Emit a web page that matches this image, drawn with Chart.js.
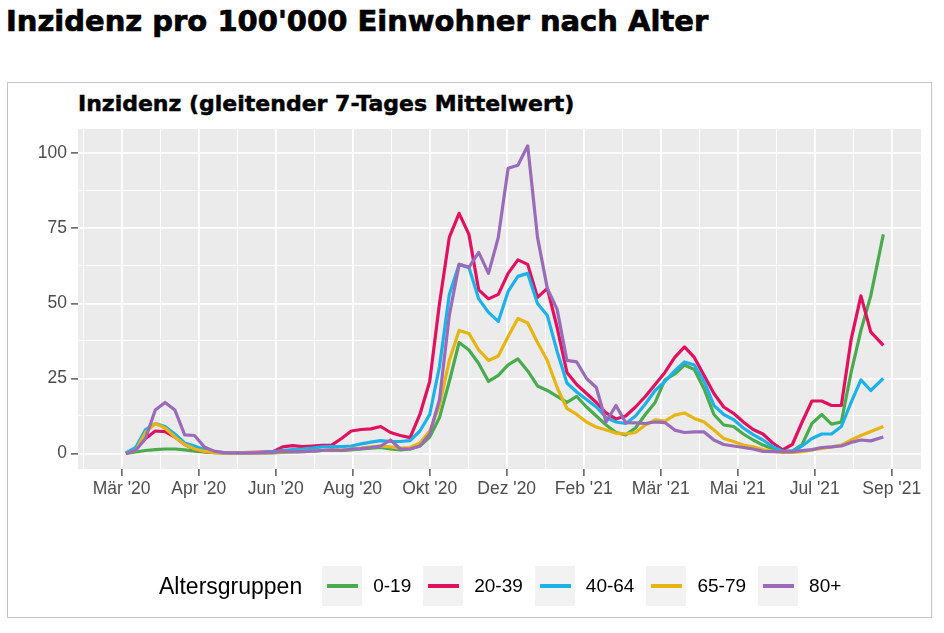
<!DOCTYPE html>
<html>
<head>
<meta charset="utf-8">
<script src="https://cdn.jsdelivr.net/npm/chart.js@4.4.1/dist/chart.umd.min.js"></script>
<style>
  html, body { margin:0; padding:0; background:#fff; }
  body { width:944px; height:633px; position:relative; overflow:hidden; font-family:"Liberation Sans", Arial, sans-serif; }
  #title { position:absolute; left:6px; top:7px; font-family:"DejaVu Sans", sans-serif; font-size:29px; line-height:29px; font-weight:bold; color:#000; white-space:nowrap; -webkit-text-stroke:0.7px #000; }
  #frame { position:absolute; left:7px; top:82px; width:923px; height:534px; border:1.5px solid #c4c4c4; }
  #subtitle { position:absolute; left:78px; top:93px; font-family:"DejaVu Sans", sans-serif; font-size:22px; line-height:22px; font-weight:bold; color:#000; white-space:nowrap; -webkit-text-stroke:0.5px #000; }
  canvas { position:absolute; left:0; top:0; }
  #legend { position:absolute; left:159px; top:566px; height:40px; display:flex; align-items:center; white-space:nowrap; color:#000; }
  #legend .ltitle { font-size:23px; margin-right:20px; }
  #legend .key { width:40px; height:40px; background:#f2f2f2; position:relative; }
  #legend .key span { position:absolute; left:5px; top:18px; width:31px; height:4px; }
  #legend .lab { font-size:19px; margin:0 12px 0 11px; }
</style>
</head>
<body>
<div id="title">Inzidenz pro 100'000 Einwohner nach Alter</div>
<div id="frame"></div>
<div id="subtitle">Inzidenz (gleitender 7-Tages Mittelwert)</div>
<canvas id="chart" width="944" height="633"></canvas>
<div id="legend"></div>
<script>
// days since 1 Mar 2020
const days = [3,10,17,24,31,38,45,52,59,66,73,80,87,94,101,108,115,122,129,136,
  143,150,157,164,171,178,185,192,199,206,213,220,227,234,241,248,255,262,269,276,
  283,290,297,304,311,318,325,332,339,346,353,360,367,374,381,388,395,402,409,416,
  423,430,437,444,451,458,465,472,479,486,493,500,507,514,521,528,535,544]

const ages = ["0-19", "20-39", "40-64", "65-79", "80+"]
const colors = ["#4aab4e", "#e0115f", "#1cb1e8", "#e6b512", "#9a6bb8"]

const inz0_19 = [0,0.5,1,1.3,1.5,1.5,1.2,0.8,0.5,0.3,
  0.2,0.2,0.2,0.2,0.2,0.2,0.4,0.5,0.6,0.8,
  1,1,1,1.2,1.5,1.8,2,1.5,1.2,1.5,
  2.5,5.5,12,24,37,34.5,30,24,26,29.5,
  31.5,27.5,22.5,21,19,17,19,15.5,12.5,9.5,
  7,6.2,8.5,13,17,24.5,26.5,29.5,28,21.5,
  13,9.5,9,6.5,4.5,2.8,1.6,0.6,0.8,3,
  10,13,9.8,10.5,27,41,52.5,73]

const inz20_39 = [0,1.7,5,7.5,7.3,5.5,3,1.5,0.6,0.4,
  0.3,0.3,0.3,0.4,0.5,0.6,2.2,2.6,2.3,2.5,
  2.7,2.8,5,7.5,8,8.2,9,7,6,5.3,
  13,24,50,72,80,73,54.5,51.5,53,60,
  64.5,63,52,55,42,27,23,20,17,13.5,
  11.5,12.5,15.5,19,23,27,32,35.5,32,26,
  20,15.5,13.4,10.5,8,6.5,3.5,1.2,3,10.5,
  17.5,17.5,16,16,38,52.5,40.5,36]

const inz40_64 = [0.2,2,8,10,9,6.5,3.5,2.5,1.3,0.5,
  0.3,0.3,0.3,0.3,0.4,0.6,1,1.3,1.5,1.8,
  2.2,2.3,2.3,2.5,3.2,3.8,4.3,4,4,4.3,
  7.5,13,29,53,63,62,51.5,47,44,54,
  59,60,50,46,34,23.5,20.5,18,15.5,12,
  10.5,10,12.5,16.5,21,24,27.5,30.5,29.5,24,
  16,13,11.3,8.5,6.3,4.5,2.3,0.8,0.8,2.5,
  5,6.5,6.5,9,17,24.5,21,25]

const inz65_79 = [0,1,7,10,8.5,5.5,3,1.5,0.7,0.3,
  0.2,0.2,0.2,0.2,0.2,0.3,0.5,0.6,0.7,0.8,
  1,1.2,1.2,1.5,1.8,2.2,2.5,2.2,1.8,2,
  3.5,7.5,16,31,41,40,34.5,31,32.5,39,
  45,43.5,37,31,22,15,13,10.5,8.8,7.8,
  6.8,6.5,7,9.5,11.2,10.8,12.8,13.5,11.7,10.5,
  7.8,5,4,2.8,2.2,1.3,0.7,0.4,0.4,0.6,
  1.2,1.7,2.2,2.8,4.5,6,7.3,9]

const inz80plus = [0,1,5,14.5,17,14.5,6.2,6,2.2,0.8,
  0.3,0.2,0.2,0.2,0.3,0.4,0.8,0.6,0.6,0.8,
  1,1.2,1,1.5,1.6,2,2.5,4.5,1.5,1.5,
  2.5,6.5,18,46,63,62,67,60,72,95,
  96,102.5,72,55,48,31,30.5,25,22,10.5,
  16,10.3,10.2,10,10.5,10.3,7.8,7,7.2,7.2,
  4.5,3,2.5,2,1.5,0.7,0.6,0.6,0.6,1,
  1.3,2,2.2,2.5,3.7,4.5,4.2,5.5]

const series = [inz0_19, inz20_39, inz40_64, inz65_79, inz80plus]

const xTickDays = [0,55,110,165,220,275,330,385,440,495,550]
const xTickLabels = ["Mär '20","Apr '20","Jun '20","Aug '20","Okt '20","Dez '20","Feb '21","Mär '21","Mai '21","Jul '21","Sep '21"]
const yTicks = [0,25,50,75,100]

// grid lines: major + minor halfway between
const xGrid = [-27.5]
xTickDays.forEach(function(d){ xGrid.push(d); xGrid.push(d + 27.5) })
const yGrid = []
yTicks.forEach(function(v){ yGrid.push(v); if(v < 100) yGrid.push(v + 12.5) })

Chart.defaults.font.family = '"Liberation Sans", Arial, sans-serif'

const panelBg = {
  id: "panelBg",
  beforeDraw: function(chart){
    const a = chart.chartArea
    const c = chart.ctx
    c.save()
    c.fillStyle = "#ebebeb"
    c.fillRect(a.left, a.top, a.right - a.left, a.bottom - a.top)
    c.restore()
  }
}

function gridOpts(isMajor){
  return {
    color: "#ffffff",
    lineWidth: function(c){ return c.tick && isMajor(c.tick.value) ? 1.8 : 0.9 },
    drawTicks: true,
    tickLength: 7,
    tickWidth: 1.2,
    tickColor: function(c){ return c.tick && isMajor(c.tick.value) ? "#333333" : "rgba(0,0,0,0)" }
  }
}

const datasets = series.map(function(s, i){
  return {
    label: ages[i],
    data: days.map(function(d, j){ return {x: d, y: s[j]} }),
    borderColor: colors[i],
    backgroundColor: colors[i],
    borderWidth: 3.2,
    pointRadius: 0,
    tension: 0,
    fill: false,
    borderJoinStyle: "round",
    order: series.length - i
  }
})

new Chart(document.getElementById("chart"), {
  type: "line",
  data: { datasets: datasets },
  options: {
    responsive: false,
    animation: false,
    layout: { padding: { left: 0, top: 129, right: 23, bottom: 124 } },
    plugins: { legend: { display: false }, tooltip: { enabled: false } },
    scales: {
      x: {
        type: "linear",
        min: -31.2,
        max: 570.9,
        afterBuildTicks: function(s){ s.ticks = xGrid.map(function(v){ return {value: v} }) },
        afterFit: function(s){ s.height = 40 },
        border: { display: false },
        grid: gridOpts(function(v){ return xTickDays.indexOf(v) >= 0 }),
        ticks: {
          autoSkip: false,
          maxRotation: 0,
          padding: 3,
          color: "#4d4d4d",
          font: { size: 17.5 },
          callback: function(v){
            const k = xTickDays.indexOf(v)
            return k < 0 ? "" : xTickLabels[k]
          }
        }
      },
      y: {
        min: -5.16,
        max: 108.1,
        afterBuildTicks: function(s){ s.ticks = yGrid.map(function(v){ return {value: v} }) },
        afterFit: function(s){ s.width = 78 },
        border: { display: false },
        grid: gridOpts(function(v){ return yTicks.indexOf(v) >= 0 }),
        ticks: {
          autoSkip: false,
          padding: 4,
          color: "#4d4d4d",
          font: { size: 17.5 },
          callback: function(v){ return yTicks.indexOf(v) >= 0 ? String(v) : "" }
        }
      }
    }
  },
  plugins: [panelBg]
})

// legend
const legend = document.getElementById("legend")
let html = '<span class="ltitle">Altersgruppen</span>'
ages.forEach(function(a, i){
  html += '<div class="key"><span style="background:' + colors[i] + '"></span></div><span class="lab">' + a + '</span>'
})
legend.innerHTML = html
</script>
</body>
</html>
